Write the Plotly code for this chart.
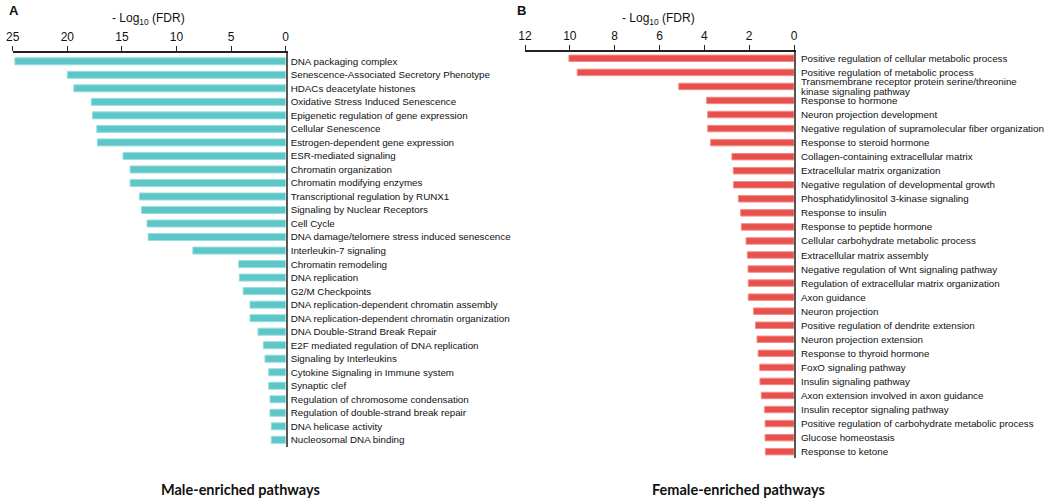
import plotly.graph_objects as go

male_pathways = [
    "DNA packaging complex",
    "Senescence-Associated Secretory Phenotype",
    "HDACs deacetylate histones",
    "Oxidative Stress Induced Senescence",
    "Epigenetic regulation of gene expression",
    "Cellular Senescence",
    "Estrogen-dependent gene expression",
    "ESR-mediated signaling",
    "Chromatin organization",
    "Chromatin modifying enzymes",
    "Transcriptional regulation by RUNX1",
    "Signaling by Nuclear Receptors",
    "Cell Cycle",
    "DNA damage/telomere stress induced senescence",
    "Interleukin-7 signaling",
    "Chromatin remodeling",
    "DNA replication",
    "G2/M Checkpoints",
    "DNA replication-dependent chromatin assembly",
    "DNA replication-dependent chromatin organization",
    "DNA Double-Strand Break Repair",
    "E2F mediated regulation of DNA replication",
    "Signaling by Interleukins",
    "Cytokine Signaling in Immune system",
    "Synaptic clef",
    "Regulation of chromosome condensation",
    "Regulation of double-strand break repair",
    "DNA helicase activity",
    "Nucleosomal DNA binding",
]
male_values = [24.8, 20.0, 19.4, 17.8, 17.7, 17.3, 17.25, 14.9, 14.25, 14.25,
               13.4, 13.2, 12.7, 12.6, 8.5, 4.3, 4.25, 3.9, 3.27, 3.27,
               2.54, 2.05, 1.9, 1.56, 1.56, 1.44, 1.44, 1.32, 1.32]

female_pathways = [
    "Positive regulation of cellular metabolic process",
    "Positive regulation of metabolic process",
    "Transmembrane receptor protein serine/threonine<br>kinase signaling pathway",
    "Response to hormone",
    "Neuron projection development",
    "Negative regulation of supramolecular fiber organization",
    "Response to steroid hormone",
    "Collagen-containing extracellular matrix",
    "Extracellular matrix organization",
    "Negative regulation of developmental growth",
    "Phosphatidylinositol 3-kinase signaling",
    "Response to insulin",
    "Response to peptide hormone",
    "Cellular carbohydrate metabolic process",
    "Extracellular matrix assembly",
    "Negative regulation of Wnt signaling pathway",
    "Regulation of extracellular matrix organization",
    "Axon guidance",
    "Neuron projection",
    "Positive regulation of dendrite extension",
    "Neuron projection extension",
    "Response to thyroid hormone",
    "FoxO signaling pathway",
    "Insulin signaling pathway",
    "Axon extension involved in axon guidance",
    "Insulin receptor signaling pathway",
    "Positive regulation of carbohydrate metabolic process",
    "Glucose homeostasis",
    "Response to ketone",
]
female_values = [10.04, 9.67, 5.14, 3.9, 3.85, 3.85, 3.72, 2.77, 2.71, 2.7,
                 2.48, 2.38, 2.35, 2.14, 2.08, 2.05, 2.04, 2.04, 1.81, 1.72,
                 1.65, 1.6, 1.53, 1.52, 1.46, 1.31, 1.29, 1.29, 1.28]

male_ticks = [25, 20, 15, 10, 5, 0]
female_ticks = [12, 10, 8, 6, 4, 2, 0]

W, H = 1050, 504
FONT = "Liberation Sans, Arial, sans-serif"
LABEL_SIZE = 9.8

fig = go.Figure()
fig.add_trace(go.Bar(
    x=male_values, y=male_pathways, orientation="h",
    marker=dict(color="#5cc7c6", line=dict(color="#9adede", width=1)),
    width=0.52, xaxis="x", yaxis="y", showlegend=False,
))
fig.add_trace(go.Bar(
    x=female_values, y=female_pathways, orientation="h",
    marker=dict(color="#e8514b", line=dict(color="#f28c87", width=1)),
    width=0.46, xaxis="x2", yaxis="y2", showlegend=False,
))

axis_common = dict(
    side="top", showgrid=False, zeroline=False, showline=True, automargin=False,
    linecolor="#222", linewidth=1.5, ticks="outside", ticklen=5,
    tickcolor="#222", tickwidth=1.2,
    tickfont=dict(family=FONT, size=12, color="#111"),
)
ycommon = dict(
    type="category", side="right", showgrid=False, zeroline=False, automargin=False,
    showline=True, linecolor="#555", linewidth=2, ticks="",
    tickfont=dict(family=FONT, size=LABEL_SIZE, color="#111"),
)

fig.update_layout(
    width=W, height=H,
    margin=dict(l=0, r=0, t=0, b=0, autoexpand=False),
    plot_bgcolor="white", paper_bgcolor="white",
    xaxis=dict(domain=[12.7 / W, 285.7 / W], range=[25, 0], anchor="y",
               tickvals=male_ticks, **axis_common),
    yaxis=dict(domain=[1 - 447 / H, 1 - 53 / H], range=[28.53, -0.614],
               anchor="x", categoryorder="array", categoryarray=male_pathways,
               ticklabelstandoff=1, **ycommon),
    xaxis2=dict(domain=[525 / W, 794 / W], range=[12, 0], anchor="y2",
                tickvals=female_ticks, **axis_common),
    yaxis2=dict(domain=[1 - 458 / H, 1 - 52 / H], range=[28.45, -0.45],
                anchor="x2", categoryorder="array", categoryarray=female_pathways,
                showticklabels=False, **ycommon),
)

annotations = [
    dict(text="<b>A</b>", x=14 / W, y=1 - 10 / H, xanchor="center", yanchor="middle",
         font=dict(family=FONT, size=13, color="#111")),
    dict(text="<b>B</b>", x=521 / W, y=1 - 10 / H, xanchor="center", yanchor="middle",
         font=dict(family=FONT, size=13, color="#111")),
    dict(text="- Log<sub>10</sub> (FDR)", x=148 / W, y=1 - 19 / H, xanchor="center",
         yanchor="middle", font=dict(family=FONT, size=12, color="#111")),
    dict(text="- Log<sub>10</sub> (FDR)", x=658 / W, y=1 - 19 / H, xanchor="center",
         yanchor="middle", font=dict(family=FONT, size=12, color="#111")),
    dict(text="<b>Male-enriched pathways</b>", x=240 / W, y=1 - 489 / H,
         xanchor="center", yanchor="middle",
         font=dict(family="Lato, Open Sans, sans-serif", size=14.5, color="#111")),
    dict(text="<b>Female-enriched pathways</b>", x=738 / W, y=1 - 489 / H,
         xanchor="center", yanchor="middle",
         font=dict(family="Lato, Open Sans, sans-serif", size=14.5, color="#111")),
]
for a in annotations:
    a.update(xref="paper", yref="paper", showarrow=False)

# Panel B category labels (placed at each category, multi-line labels tightly spaced)
for cat in female_pathways:
    parts = cat.split("<br>")
    n = len(parts)
    line_gap = 9.3
    for i, part in enumerate(parts):
        annotations.append(dict(
            text=part, x=0, y=cat, xref="x2", yref="y2", showarrow=False,
            xanchor="left", yanchor="middle", xshift=5,
            yshift=((n - 1) / 2 - i) * line_gap,
            font=dict(family=FONT, size=LABEL_SIZE, color="#111"),
        ))

fig.update_layout(annotations=annotations)

fig.write_html(
    "out.html",
    config={"displayModeBar": False},
    post_script="document.body.style.margin='0';document.body.style.overflow='hidden';",
)
